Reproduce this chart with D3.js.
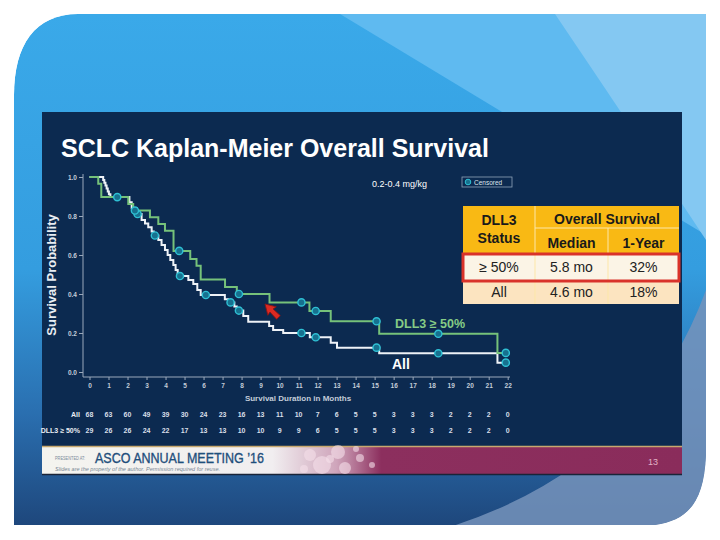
<!DOCTYPE html>
<html>
<head>
<meta charset="utf-8">
<script src="https://cdn.jsdelivr.net/npm/d3@7"></script>
<style>
  body { margin: 0; background: #fff; }
  svg { display: block; font-family: "Liberation Sans", Arial, sans-serif; }
</style>
</head>
<body>
<div id="slide"></div>
<script>
// ---- values ----
var monthTicks = [0,1,2,3,4,5,6,7,8,9,10,11,12,13,14,15,16,17,18,19,20,21,22];
var survTicks = [0.0, 0.2, 0.4, 0.6, 0.8, 1.0];

// All patients: step times (months) and survival after each step
var allTimes = [0, 0.72, 0.78, 0.84, 0.90, 0.96, 1.02, 1.10, 2.10, 2.22, 2.48, 2.74, 2.92, 3.09, 3.27, 3.38,
                3.62, 3.79, 3.97, 4.11, 4.25, 4.41, 4.53, 4.64, 5.20, 5.46, 5.67, 5.85, 7.12, 7.30, 7.62, 7.75,
                8.09, 8.35, 9.45, 9.66, 10.19, 11.59, 12.69, 13.02, 15.24, 21.46];
var allSurv  = [1.0, 0.985, 0.971, 0.956, 0.941, 0.926, 0.912, 0.897, 0.870, 0.840, 0.810, 0.780, 0.762, 0.742, 0.720, 0.700,
                0.677, 0.651, 0.626, 0.600, 0.574, 0.549, 0.523, 0.492, 0.472, 0.451, 0.420, 0.395, 0.373, 0.357, 0.336, 0.315,
                0.287, 0.258, 0.236, 0.215, 0.200, 0.178, 0.150, 0.125, 0.096, 0.048];
var allCensored = [1.46, 2.53, 3.44, 4.76, 6.12, 7.42, 7.86, 11.15, 11.90, 15.10, 18.35, 21.90];

// DLL3 >= 50%
var dllTimes = [0, 0.46, 0.62, 2.04, 2.30, 3.18, 3.62, 3.97, 4.42, 5.30, 5.63, 5.85, 7.13, 7.75, 9.47, 11.57, 12.69, 15.24, 21.46];
var dllSurv  = [1.0, 0.966, 0.897, 0.862, 0.828, 0.793, 0.759, 0.724, 0.621, 0.580, 0.545, 0.474, 0.436, 0.400, 0.357, 0.313, 0.260, 0.196, 0.098];
var dllCensored = [2.39, 4.72, 7.86, 11.15, 11.90, 15.10, 18.35, 21.90];

// numbers at risk at each month
var riskAll = [68,63,60,49,39,30,24,23,16,13,11,10,7,6,5,5,3,3,3,2,2,2,0];
var riskDll = [29,26,26,24,22,17,13,13,10,10,9,9,6,5,5,5,3,3,3,2,2,2,0];
var riskLabels = ["All", "DLL3 \u2265 50%"];

// summary table
var tableHead = ["Median", "1-Year"];
var tableRows = [["\u2265 50%", "5.8 mo", "32%"], ["All", "4.6 mo", "18%"]];

// ---- slide ----
var W = 720, H = 540;
var svg = d3.select("#slide").append("svg").attr("width", W).attr("height", H);
var defs = svg.append("defs");

// blue theme background
var bgShape = "M14,95 C14,45 35,14 78,14 L706,14 L706,455 C704,500 690,520 655,525 L14,525 Z";
defs.append("clipPath").attr("id", "bgclip").append("path").attr("d", bgShape);
var bgGrad = defs.append("linearGradient").attr("id", "bggrad")
  .attr("x1", 0).attr("y1", 0).attr("x2", 0).attr("y2", 1);
bgGrad.append("stop").attr("offset", "0").attr("stop-color", "#3aa9e9");
bgGrad.append("stop").attr("offset", "0.5").attr("stop-color", "#349ddf");
bgGrad.append("stop").attr("offset", "0.78").attr("stop-color", "#2a6fb0");
bgGrad.append("stop").attr("offset", "1").attr("stop-color", "#1e477c");

var bg = svg.append("g").attr("clip-path", "url(#bgclip)");
bg.append("path").attr("d", bgShape).attr("fill", "url(#bggrad)");
bg.append("path").attr("d", "M340,14 L706,14 L706,235 Z").attr("fill", "#5fbaf0");
bg.append("path").attr("d", "M555,14 L706,14 L706,240 Q640,140 555,14 Z").attr("fill", "#84c8f2");
bg.append("path").attr("d", "M440,530 Q640,470 706,290 L706,530 Z").attr("fill", "#7593bb").attr("opacity", 0.85);

// dark chart panel
svg.append("rect").attr("x", 42).attr("y", 112).attr("width", 640).attr("height", 363).attr("fill", "#0c2a50");

// footer band
var ftGrad = defs.append("linearGradient").attr("id", "ftgrad");
ftGrad.append("stop").attr("offset", "0").attr("stop-color", "#f4f4ef");
ftGrad.append("stop").attr("offset", "0.36").attr("stop-color", "#f1eef0");
ftGrad.append("stop").attr("offset", "0.46").attr("stop-color", "#cfa5bb");
ftGrad.append("stop").attr("offset", "0.53").attr("stop-color", "#8c2f5e");
ftGrad.append("stop").attr("offset", "1").attr("stop-color", "#8a2c5b");
svg.append("rect").attr("x", 42).attr("y", 446).attr("width", 640).attr("height", 28).attr("fill", "url(#ftgrad)");
svg.append("line").attr("x1", 42).attr("x2", 682).attr("y1", 446.5).attr("y2", 446.5)
  .attr("stroke", "#c7a86e").attr("stroke-width", 1.5);
svg.append("line").attr("x1", 42).attr("x2", 682).attr("y1", 474.5).attr("y2", 474.5)
  .attr("stroke", "#1a2438").attr("stroke-width", 1.5);

var bubbles = [[310,455,6],[322,465,9],[338,452,7],[345,468,6],[304,469,4],[360,458,4],[330,459,4],[372,465,3],[356,449,3]];
svg.append("g").selectAll("circle").data(bubbles).enter().append("circle")
  .attr("cx", function(d){ return d[0]; }).attr("cy", function(d){ return d[1]; }).attr("r", function(d){ return d[2]; })
  .attr("fill", "#f5dfe9").attr("opacity", 0.6);

svg.append("text").attr("x", 55).attr("y", 459.5).text("PRESENTED AT:")
  .attr("textLength", 30).attr("lengthAdjust", "spacingAndGlyphs")
  .style("font-size", "5px").attr("fill", "#7d8b9a");
svg.append("text").attr("x", 95).attr("y", 463).text("ASCO ANNUAL MEETING \u201916")
  .attr("textLength", 169).attr("lengthAdjust", "spacingAndGlyphs")
  .style("font-size", "14.5px").attr("fill", "#1f4f7c").attr("stroke", "#1f4f7c").attr("stroke-width", 0.35);
svg.append("text").attr("x", 55).attr("y", 471).text("Slides are the property of the author. Permission required for reuse.")
  .attr("textLength", 165).attr("lengthAdjust", "spacingAndGlyphs")
  .style("font-size", "4.5px").style("font-style", "italic").attr("fill", "#7a8896");
svg.append("text").attr("x", 648).attr("y", 465).text("13")
  .style("font-size", "9px").attr("fill", "#e2b2c6");

// title
svg.append("text").attr("x", 61).attr("y", 157).text("SCLC Kaplan-Meier Overall Survival")
  .style("font-size", "25px").style("font-weight", "bold").attr("fill", "#fff");

// ---- Kaplan-Meier plot ----
var x = d3.scaleLinear().domain([0, 22]).range([89.5, 507.7]);
var y = d3.scaleLinear().domain([0, 1]).range([372, 177]);

var yAxis = svg.append("g").attr("transform", "translate(83,0)")
  .call(d3.axisLeft(y).tickValues(survTicks).tickFormat(d3.format(".1f")).tickSize(4).tickPadding(2));
yAxis.select(".domain").remove();
yAxis.append("line").attr("y1", 174).attr("y2", 377).attr("stroke", "#9aa8bb");

var xAxis = svg.append("g").attr("transform", "translate(0,377)")
  .call(d3.axisBottom(x).tickValues(monthTicks).tickSize(3).tickPadding(3));
xAxis.select(".domain").remove();
xAxis.append("line").attr("x1", 83).attr("x2", 510).attr("stroke", "#9aa8bb");

svg.selectAll(".tick line").attr("stroke", "#9aa8bb");
svg.selectAll(".tick text").attr("fill", "#c4cdd9").style("font-size", "6.5px").style("font-weight", "bold")
  .style("font-family", "'Liberation Sans', Arial, sans-serif");

svg.append("text").attr("transform", "translate(56,275) rotate(-90)").attr("text-anchor", "middle")
  .text("Survival Probability").style("font-size", "13px").style("font-weight", "bold").attr("fill", "#e8edf3");
svg.append("text").attr("x", 298).attr("y", 401).attr("text-anchor", "middle")
  .text("Survival Duration in Months").style("font-size", "8px").style("font-weight", "bold").attr("fill", "#c4cdd9");

function stepPoints(times, surv, endT) {
  var pts = times.map(function(t, i){ return [t, surv[i]]; });
  pts.push([endT, surv[surv.length - 1]]);
  return pts;
}
function survAt(times, surv, t) {
  var s = surv[0];
  for (var i = 0; i < times.length; i++) { if (times[i] <= t) s = surv[i]; }
  return s;
}

var line = d3.line().x(function(d){ return x(d[0]); }).y(function(d){ return y(d[1]); }).curve(d3.curveStepAfter);

var curves = [
  {pts: stepPoints(allTimes, allSurv, 21.9), color: "#eef2f7",
   cens: allCensored.map(function(t){ return [t, survAt(allTimes, allSurv, t)]; })},
  {pts: stepPoints(dllTimes, dllSurv, 21.9), color: "#76c27a",
   cens: dllCensored.map(function(t){ return [t, survAt(dllTimes, dllSurv, t)]; })}
];

curves.forEach(function(c){
  svg.append("path").datum(c.pts).attr("d", line).attr("fill", "none")
    .attr("stroke", c.color).attr("stroke-width", 2);
});
curves.forEach(function(c){
  svg.append("g").selectAll("circle").data(c.cens).enter().append("circle")
    .attr("cx", function(d){ return x(d[0]); }).attr("cy", function(d){ return y(d[1]); })
    .attr("r", 3.6).attr("fill", "#17718f").attr("stroke", "#2fc0d4").attr("stroke-width", 1.4);
});

svg.append("text").attr("x", 395).attr("y", 328).text("DLL3 \u2265 50%")
  .style("font-size", "12.5px").style("font-weight", "bold").attr("fill", "#86cc86");
svg.append("text").attr("x", 392).attr("y", 369).text("All")
  .style("font-size", "14px").style("font-weight", "bold").attr("fill", "#fff");

// legend
svg.append("text").attr("x", 372).attr("y", 187).text("0.2-0.4 mg/kg").style("font-size", "9px").attr("fill", "#fff");
svg.append("rect").attr("x", 462).attr("y", 177).attr("width", 50).attr("height", 10)
  .attr("fill", "none").attr("stroke", "#8fa3b8").attr("stroke-width", 0.8);
svg.append("circle").attr("cx", 468).attr("cy", 182).attr("r", 2.8)
  .attr("fill", "#17718f").attr("stroke", "#2fc0d4").attr("stroke-width", 1);
svg.append("text").attr("x", 474).attr("y", 184.5).text("Censored").style("font-size", "6.5px").attr("fill", "#dfe6ee");

// red pointer, tip up-left
svg.append("path").attr("d", "M0,0 L6,10 L2.2,9.2 L2.6,19 L-2.6,19 L-2.2,9.2 L-6,10 Z")
  .attr("transform", "translate(265,304) rotate(-45)")
  .attr("fill", "#dc2a22").attr("stroke", "#8a1414").attr("stroke-width", 0.8);

// numbers at risk
var riskRows = [riskAll, riskDll];
riskRows.forEach(function(row, r){
  var yy = 416.5 + r * 16.5;
  svg.append("text").attr("x", 80).attr("y", yy).attr("text-anchor", "end").text(riskLabels[r])
    .style("font-size", "7px").style("font-weight", "bold").attr("fill", "#e8edf3");
  svg.append("g").selectAll("text").data(row).enter().append("text")
    .attr("x", function(d, i){ return x(monthTicks[i]); }).attr("y", yy).attr("text-anchor", "middle")
    .text(function(d){ return d; })
    .style("font-size", "7px").style("font-weight", "bold").attr("fill", "#d8dfe8");
});

// ---- summary table ----
var colX = [463, 535, 608, 679];
var rowY = [206, 228, 254, 281, 304];
var tg = svg.append("g");
tg.append("rect").attr("x", colX[0]).attr("y", rowY[0]).attr("width", colX[3] - colX[0]).attr("height", rowY[2] - rowY[0])
  .attr("fill", "#f9b914");
tg.append("rect").attr("x", colX[0]).attr("y", rowY[2]).attr("width", colX[3] - colX[0]).attr("height", rowY[3] - rowY[2])
  .attr("fill", "#fbf4e6");
tg.append("rect").attr("x", colX[0]).attr("y", rowY[3]).attr("width", colX[3] - colX[0]).attr("height", rowY[4] - rowY[3])
  .attr("fill", "#fce4c0");
// cell dividers
tg.append("line").attr("x1", colX[1]).attr("x2", colX[1]).attr("y1", rowY[0]).attr("y2", rowY[4]).attr("stroke", "#fde7a8");
tg.append("line").attr("x1", colX[2]).attr("x2", colX[2]).attr("y1", rowY[1]).attr("y2", rowY[4]).attr("stroke", "#fde7a8");
tg.append("line").attr("x1", colX[1]).attr("x2", colX[3]).attr("y1", rowY[1]).attr("y2", rowY[1]).attr("stroke", "#fde7a8");
tg.append("line").attr("x1", colX[0]).attr("x2", colX[3]).attr("y1", rowY[3]).attr("y2", rowY[3]).attr("stroke", "#fff");

function cellText(txt, cx, by, bold) {
  tg.append("text").attr("x", cx).attr("y", by).attr("text-anchor", "middle").text(txt)
    .style("font-size", "14px").style("font-weight", bold ? "bold" : "normal").attr("fill", bold ? "#1a1a1a" : "#222");
}
cellText("DLL3", (colX[0] + colX[1]) / 2, 225, true);
cellText("Status", (colX[0] + colX[1]) / 2, 243, true);
cellText("Overall Survival", (colX[1] + colX[3]) / 2, 224, true);
tableHead.forEach(function(h, i){ cellText(h, (colX[i + 1] + colX[i + 2]) / 2, 248, true); });
tableRows.forEach(function(row, r){
  row.forEach(function(v, i){ cellText(v, (colX[i] + colX[i + 1]) / 2, [272, 297][r], false); });
});
tg.append("rect").attr("x", colX[0]).attr("y", rowY[2]).attr("width", colX[3] - colX[0]).attr("height", rowY[3] - rowY[2])
  .attr("fill", "none").attr("stroke", "#d9322a").attr("stroke-width", 3);
</script>
</body>
</html>
